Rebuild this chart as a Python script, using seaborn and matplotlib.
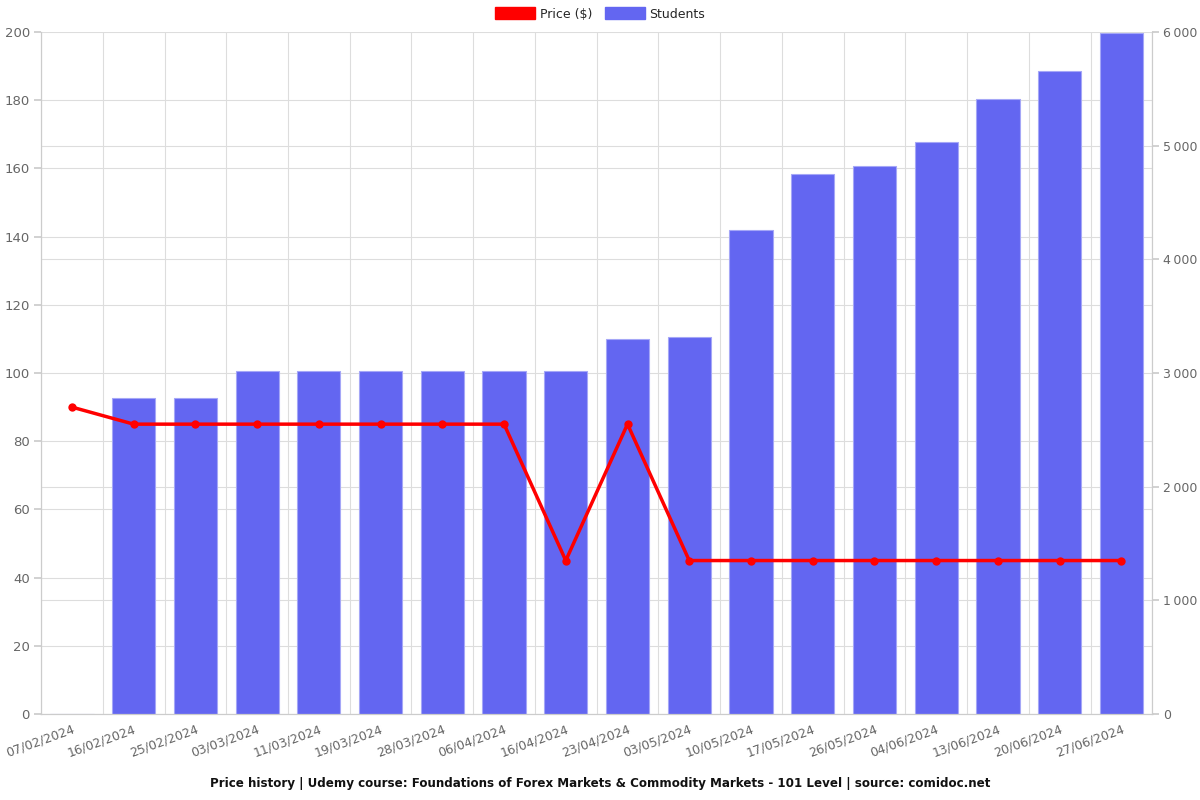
import matplotlib
matplotlib.use("Agg")
import matplotlib.pyplot as plt
import matplotlib.patches as mpatches
from matplotlib.ticker import FuncFormatter, MultipleLocator
import numpy as np
import pandas as pd
import seaborn as sns

dates = ["07/02/2024", "16/02/2024", "25/02/2024", "03/03/2024", "11/03/2024",
         "19/03/2024", "28/03/2024", "06/04/2024", "16/04/2024", "23/04/2024",
         "03/05/2024", "10/05/2024", "17/05/2024", "26/05/2024", "04/06/2024",
         "13/06/2024", "20/06/2024", "27/06/2024"]
price = [90, 85, 85, 85, 85, 85, 85, 85, 45, 85, 45, 45, 45, 45, 45, 45, 45, 45]
students = [0, 2780, 2780, 3020, 3020, 3020, 3020, 3020, 3020, 3300, 3315,
            4260, 4750, 4820, 5030, 5410, 5660, 5990]

df = pd.DataFrame({"date": dates, "price": price, "students": students})
df["pos"] = np.arange(len(df))

sns.set_theme(style="white")
plt.rcParams['font.family'] = ['DejaVu Sans']

fig = plt.figure(figsize=(12, 8), dpi=100)
ax = fig.add_axes([0.0342, 0.1075, 0.926, 0.8525])
ax2 = ax.twinx()

grid_c = "#dddddd"
tick_c = "#666666"
PRICE_MAX, STUD_MAX = 200, 6000

# Bars (students) on ax, shown on right axis
sns.barplot(data=df, x="date", y="students", ax=ax, color="#6366F1",
            saturation=1, width=0.7, edgecolor="#a5a7f7", linewidth=0.8)
ax.set_ylim(0, STUD_MAX)
ax.yaxis.set_major_locator(MultipleLocator(1000))
# minor ticks matching the price axis steps (20 on the price axis)
ax.yaxis.set_minor_locator(MultipleLocator(20 * STUD_MAX / PRICE_MAX))
ax.yaxis.tick_right()
ax.yaxis.set_label_position("right")
ax.yaxis.set_major_formatter(FuncFormatter(lambda v, p: f"{int(v):,}".replace(",", "\u202f")))
ax.set_xlim(-0.5, len(df) - 0.5)
ax.set_xlabel("")
ax.set_ylabel("")
ax.grid(axis="y", which="major", color=grid_c, linewidth=0.8)
ax.grid(axis="y", which="minor", color=grid_c, linewidth=0.8)
ax.tick_params(axis="y", which="minor", length=0)
ax.set_axisbelow(True)

# Vertical grid at category boundaries
ax.set_xticks(np.arange(-0.5, len(df) + 0.5, 1.0), minor=True)
ax.grid(axis="x", which="minor", color=grid_c, linewidth=0.8)
ax.tick_params(axis="x", which="minor", length=5, color="#cccccc")
ax.tick_params(axis="x", which="major", length=0, pad=6)
ax.set_xticks(np.arange(len(df)))
ax.set_xticklabels(dates, rotation=20, ha="right", rotation_mode="anchor",
                   fontsize=9, color=tick_c)
ax.tick_params(axis="y", which="major", labelsize=9, labelcolor=tick_c, length=5,
               color="#cccccc", right=True, left=False, pad=3)

# Price line on ax2, shown on left axis
sns.lineplot(data=df, x="pos", y="price", ax=ax2, color="#ff0000", linewidth=2.5,
             marker="o", markersize=6, markeredgewidth=0)
ax2.set_ylim(0, PRICE_MAX)
ax2.yaxis.set_major_locator(MultipleLocator(20))
ax2.yaxis.tick_left()
ax2.yaxis.set_label_position("left")
ax2.set_xlim(-0.5, len(df) - 0.5)
ax2.set_xlabel("")
ax2.set_ylabel("")
ax2.grid(False)
ax2.tick_params(axis="y", labelsize=9.5, labelcolor=tick_c, length=5, color="#cccccc",
                left=True, right=False, pad=3)

for a in (ax, ax2):
    a.spines["top"].set_visible(False)
    for s in ["left", "right", "bottom"]:
        a.spines[s].set_color("#cccccc")
        a.spines[s].set_linewidth(0.8)

handles = [mpatches.Patch(color="#ff0000", label="Price ($)"),
           mpatches.Patch(color="#6366F1", label="Students")]
fig.legend(handles=handles, loc="upper center", bbox_to_anchor=(0.5, 1.005), ncol=2,
           frameon=False, fontsize=9, handlelength=3.2, handleheight=1.1,
           columnspacing=1.0, handletextpad=0.4)

fig.text(0.5, 0.012, "Price history | Udemy course: Foundations of Forex Markets & Commodity Markets - 101 Level | source: comidoc.net",
         ha="center", va="bottom", fontsize=8.6, fontweight="bold", color="#111111")

fig.savefig("out.png", dpi=100)
